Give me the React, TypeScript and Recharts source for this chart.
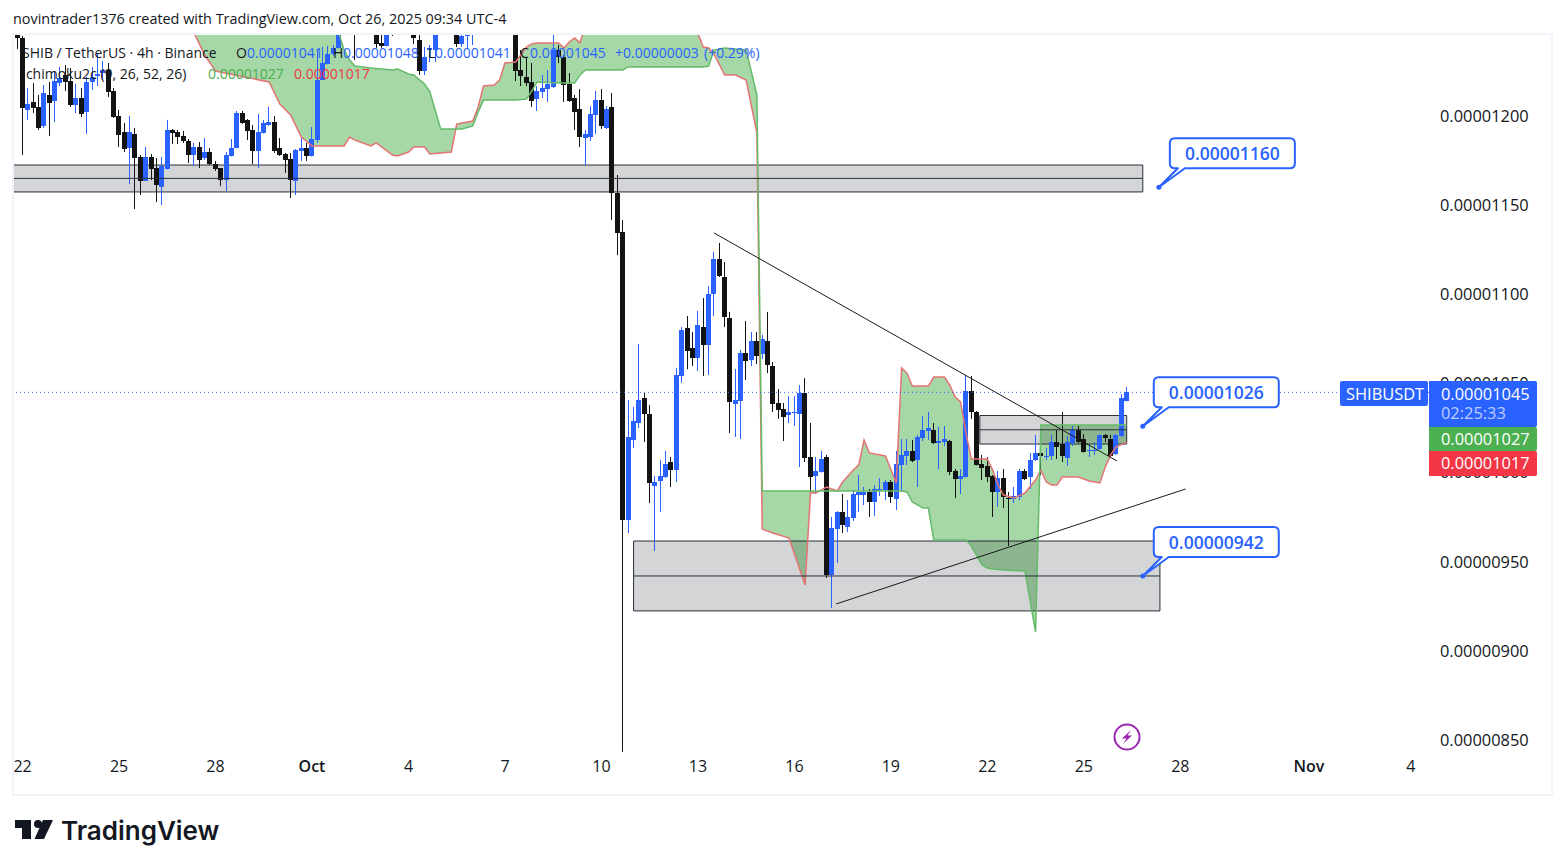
import React from "react";
import {
  ComposedChart, Bar, Area, Line, XAxis, YAxis, ReferenceArea, ReferenceLine, ReferenceDot,
} from "recharts";

// All prices are in units of 0.00000001
const UNIT = 1e-8;

const opens = [
  1246.5,1243.7,1203.4,1207.9,1205.1,1194.4,1211.8,1208.4,1218.5,1223.0,
  1219.6,1206.2,1210.1,1202.2,1219.1,1222.4,1224.1,1225.8,1214.0,1200.0,
  1191.0,1182.1,1189.9,1177.0,1163.5,1177.0,1170.8,1160.2,1170.3,1192.2,
  1191.0,1188.8,1186.0,1178.1,1182.6,1176.4,1179.8,1173.0,1170.6,1164.1,
  1177.6,1182.1,1201.7,1197.8,1192.2,1180.4,1190.5,1194.9,1196.6,1182.1,
  1178.7,1175.9,1163.5,1180.4,1182.1,1177.6,1186.5,1220.2,1229.2,1234.8,
  1238.2,1250,1258,1258,1255,1250,1256,1255,1241.0,1239.3,
  1255,1252,1258,1252,1252,1242.6,1225.2,1237.0,1237.0,1255,
  1250,1258,1254,1240.4,1244.9,1248,1258,1252,1256,1262,
  1256,1260,1255,1262,1225.8,1221.9,1219.1,1209.5,1213.5,1215.2,
  1216.3,1237.0,1233.1,1218.0,1210.1,1203.9,1187.7,1188.2,1200.6,1209.0,
  1193.3,1205.1,1156.8,1135.0,973.4,1018.3,1027.8,1041.8,1032.8,992.5,
  995.3,997.5,1005.9,1001.4,1054.2,1081.1,1069.9,1064.3,1081.6,1071.6,
  1100.2,1119.8,1109.7,1086.7,1038.5,1040.1,1067.1,1063.1,1073.8,1066.5,
  1073.8,1059.8,1039.0,1035.7,1032.3,1033.4,1032.8,1044.6,1008.7,998.1,
  1000.3,1008.7,942.6,968.3,977.9,969.5,974.5,987.4,987.4,989.1,
  983.5,990.2,990.2,994.7,985.2,1004.2,1009.3,1012.1,1007.1,1019.4,
  1023.3,1023.9,1016.6,1017.1,1017.7,1000.9,996.4,997.5,1045.7,1034.0,
  1004.8,1003.7,998.1,989.1,997.0,985.7,985.2,986.3,1000.9,997.5,
  1007.1,1011.0,1008.7,1009.3,1017.1,1016.0,1008.2,1016.6,1023.9,1018.8,
  1012.1,1012.1,1013.2,1021.1,1018.8,1010.4,1020.5,1040.1,
];
const highs = [
  1248.2,1244.9,1215.7,1218.5,1211.8,1217.4,1219.1,1224.7,1227.5,1228.6,
  1226.9,1218.0,1215.7,1221.9,1227.5,1235.3,1230.8,1229.7,1215.7,1203.4,
  1196.1,1200.0,1193.3,1178.1,1182.6,1178.7,1176.4,1177.0,1197.8,1192.7,
  1192.2,1191.6,1187.1,1184.9,1185.4,1187.7,1182.1,1174.8,1170.8,1179.8,
  1187.1,1202.8,1202.8,1198.3,1194.9,1201.1,1197.8,1205.1,1200.0,1187.7,
  1179.3,1179.3,1181.5,1187.7,1184.9,1193.8,1237.0,1238.7,1239.3,1239.8,
  1248.2,1262,1266,1270,1262,1262,1265,1262,1250,1262,
  1260,1265,1268,1266,1262,1250,1238.7,1239.8,1258,1262,
  1264,1266,1262,1250,1252,1264,1266,1260,1268,1272,
  1266,1270,1268,1272,1237.0,1233.1,1229.7,1216.8,1223.0,1225.8,
  1248.2,1239.8,1234.2,1224.1,1211.8,1215.1,1192.2,1205.6,1214.0,1215.1,
  1205.6,1212.9,1166.9,1141.7,1040.7,1036.8,1072.1,1044.6,1037.9,998.1,
  1007.1,1012.1,1008.7,1058.6,1081.6,1087.8,1078.8,1090.6,1097.9,1104.6,
  1123.7,1128.8,1118.1,1090.1,1058.1,1068.8,1085.0,1078.8,1078.8,1077.2,
  1090.1,1062.0,1046.9,1039.0,1042.9,1042.9,1049.1,1053.0,1027.8,1008.7,
  1012.1,1009.9,975.1,978.4,988.0,984.6,990.2,998.6,991.9,990.8,
  993.0,996.9,995.8,995.8,1012.1,1018.8,1018.8,1018.3,1021.1,1031.7,
  1034.0,1027.8,1025.6,1026.1,1018.3,1002.0,1002.0,1054.7,1054.2,1034.5,
  1009.9,1008.7,998.6,1000.9,1002.0,989.1,991.9,1002.0,1002.0,1011.0,
  1021.1,1011.3,1013.8,1021.1,1023.9,1034.0,1020.5,1026.1,1026.1,1021.6,
  1016.0,1017.1,1021.3,1021.6,1021.1,1021.6,1044.1,1048.0,
];
const lows = [
  1237.6,1178.1,1197.8,1201.7,1192.2,1193.3,1188.8,1196.6,1216.8,1214.0,
  1205.1,1201.7,1199.4,1189.9,1214.6,1216.8,1220.2,1210.7,1198.9,1182.6,
  1179.8,1161.9,1147.8,1155.7,1163.5,1164.1,1151.8,1150.1,1170.0,1184.3,
  1184.3,1184.9,1173.6,1171.9,1170.8,1175.3,1172.5,1169.2,1160.7,1158.0,
  1177.3,1181.8,1195.5,1186.5,1173.0,1170.8,1190.2,1194.4,1179.3,1177.6,
  1168.1,1154.0,1155.7,1174.8,1174.8,1177.3,1184.9,1220.0,1229.0,1233.7,
  1237.9,1248,1249,1231.4,1248,1248,1248,1238.2,1238.2,1239.0,
  1244.9,1248,1250,1248,1240.4,1223.0,1223.0,1230.3,1230.3,1247,
  1248,1248,1238.7,1238.7,1237.6,1239.8,1249,1248,1250,1254,
  1250,1252,1249,1219.6,1216.8,1216.8,1205.1,1202.8,1210.1,1207.9,
  1215.7,1229.7,1207.9,1207.9,1192.2,1182.6,1172.5,1186.0,1189.9,1192.7,
  1192.7,1141.7,1122.0,843.3,966.1,1013.8,1025.0,1017.2,982.9,956.0,
  977.9,996.9,991.9,994.7,1050.3,1058.0,1059.8,1057.0,1054.2,1054.7,
  1087.8,1109.7,1081.6,1022.2,1020.0,1018.8,1051.9,1059.8,1060.9,1063.7,
  1055.8,1034.0,1030.1,1017.7,1027.8,1026.1,1003.1,1005.9,989.1,988.0,
  1000.0,940.9,924.0,949.3,966.1,966.7,972.8,977.9,981.8,975.1,
  975.6,986.9,984.6,982.9,979.0,989.1,1004.2,1005.9,991.9,1017.7,
  1018.3,1016.0,1002.0,1014.9,998.6,985.7,988.0,997.2,1030.1,1004.0,
  995.8,994.7,975.1,980.7,980.1,958.8,982.9,984.6,995.8,990.8,
  1006.5,998.6,1007.1,1007.1,1007.6,1005.9,1003.7,1014.9,1016.6,1011.3,
  1008.7,1009.9,1012.7,1017.1,1008.7,1009.9,1020.0,1039.9,
];
const closes = [
  1243.7,1204.5,1206.7,1204.5,1193.3,1212.9,1207.3,1219.6,1221.3,1219.1,
  1206.2,1210.1,1201.1,1219.1,1221.9,1223.6,1225.8,1213.5,1199.4,1189.3,
  1181.5,1191.0,1176.5,1163.5,1177.0,1170.3,1161.3,1171.9,1192.2,1190.5,
  1188.2,1186.0,1178.1,1182.6,1175.3,1179.8,1173.0,1170.3,1164.1,1178.1,
  1182.1,1201.7,1196.1,1191.6,1180.4,1191.0,1196.1,1196.6,1180.4,1178.1,
  1175.3,1164.1,1180.9,1182.1,1177.6,1187.1,1220.2,1229.7,1234.8,1238.2,
  1247.1,1258,1252,1250,1250,1256,1251,1240.4,1239.3,1255,
  1250,1258,1254,1258,1243.7,1225.2,1233.1,1238.2,1250,1250,
  1257,1252,1240.4,1244.9,1246.5,1256,1252,1256,1262,1256,
  1260,1255,1263,1225.2,1222.4,1218.5,1208.4,1214.0,1215.7,1218.0,
  1237.0,1233.1,1217.4,1208.4,1202.2,1188.2,1189.9,1201.1,1209.0,1194.4,
  1203.9,1156.8,1134.4,973.4,1019.9,1028.9,1040.7,1032.8,994.1,994.7,
  998.1,1004.8,1001.4,1054.7,1080.0,1068.2,1064.3,1082.8,1071.6,1100.2,
  1119.8,1110.3,1087.2,1039.6,1040.7,1067.1,1062.6,1073.8,1065.4,1074.9,
  1060.3,1038.5,1035.1,1031.2,1034.0,1034.0,1044.6,1008.2,997.5,1000.9,
  1007.6,942.6,968.9,977.9,970.6,975.1,988.0,989.1,989.1,983.5,
  990.8,990.8,994.7,986.3,1004.8,1009.9,1012.1,1006.5,1020.0,1023.9,
  1025.0,1016.6,1017.7,1018.8,1000.3,996.4,998.1,1045.7,1034.0,1004.2,
  1002.6,997.5,989.1,997.0,986.3,985.2,986.9,1000.9,996.4,1007.1,
  1011.0,1009.3,1009.3,1017.1,1014.3,1009.3,1017.1,1023.9,1017.1,1011.5,
  1012.7,1012.7,1021.1,1019.4,1009.3,1021.1,1041.8,1045.0,
];

const cloudBars = [
  33,35,37,47,49,51,53,55,59,60,61,62,63,66,67,70,71,73,74,76,
  77,79,81,82,83,85,86,87,89,90,91,93,95,96,97,101,102,103,104,105,
  106,113,114,126,127,128,129,130,132,134,136,138,139,141,144,147,148,149,151,153,
  154,156,157,158,159,162,164,165,166,167,169,170,171,173,174,175,176,177,178,180,
  181,182,183,184,186,188,190,191,192,193,194,195,198,200,202,203,204,205,207,
];
const spanA = [
  1290,1290,1290,1290,1290,1290,1290,1290,1280,1246.5,1237.0,1231.4,1228.0,1226.9,1226.6,1225.8,1226.4,1223.6,1223.0,1217.9,
  1213.5,1192.7,1192.7,1192.7,1192.7,1194.4,1202.2,1209.0,1209.0,1209.0,1209.0,1209.0,1209.5,1214.0,1219.1,1218.5,1218.5,1218.5,1218.5,1223.0,
  1225.8,1225.8,1227.5,1227.5,1227.5,1227.5,1228.0,1237.0,1238.2,1237.6,1237.0,1211.8,989.7,989.7,989.7,989.7,989.7,989.7,989.7,989.7,
  989.7,989.7,989.7,989.7,989.7,989.7,989.7,989.7,989.1,983.5,980.1,980.1,962.2,962.2,962.2,962.2,962.2,962.2,958.8,948.2,
  946.5,945.9,945.6,945.4,945.1,944.8,910.6,1026.7,1026.7,1026.7,1026.7,1026.7,1026.7,1026.7,1026.7,1026.7,1026.7,1026.7,1026.7,
];
const spanB = [
  1246.5,1234.2,1225.2,1219.1,1206.7,1200.6,1188.2,1183.2,1183.2,1183.2,1183.2,1188.2,1186.5,1183.2,1184.9,1178.1,1177.6,1179.8,1182.6,1182.6,
  1178.7,1179.3,1179.8,1195.5,1196.1,1197.2,1205.1,1216.8,1217.4,1220.2,1229.7,1230.3,1238.7,1240.4,1241.0,1241.0,1238.2,1241.5,1243.7,1241.0,
  1251,1260,1260,1260,1246.5,1238.7,1238.2,1234.8,1223.0,1223.0,1220.2,1190.5,968.3,966.1,963.3,936.9,988.5,988.5,991.9,989.7,
  994.7,1001.4,1004.2,1018.3,1011.0,1009.3,994.1,1058.7,1055.8,1048.6,1048.6,1048.6,1053.6,1053.6,1049.1,1042.4,1039.6,1022.7,1007.6,1007.6,
  1007.6,1001.4,993.0,987.4,985.7,988.5,995.8,1001.4,994.7,993.0,993.0,997.5,997.5,995.3,994.2,1003.1,1009.9,1014.3,1017.1,
];

const yTickValues = [850, 900, 950, 1000, 1050, 1100, 1150, 1200];
const xTickBars = [1, 19, 37, 55, 73, 91, 109, 127, 145, 163, 181, 199, 217, 241, 260];
const xTickLabels = ["22", "25", "28", "Oct", "4", "7", "10", "13", "16", "19", "22", "25", "28", "Nov", "4"];

const zones = [
  { x1: -1, x2: 210, top: 1172.5, mid: 1165, bottom: 1157.4 },
  { x1: 179.6, x2: 207, top: 1032, mid: 1024, bottom: 1016 },
  { x1: 115, x2: 213.2, top: 961.6, mid: 942, bottom: 922.4 },
];
const callouts = [
  { bar: 213, price: 1160, text: "0.00001160" },
  { bar: 210, price: 1026, text: "0.00001026" },
  { bar: 210, price: 942, text: "0.00000942" },
];
const lastPrice = 1045;

const chartData = closes.map((c, i) => ({
  i, open: opens[i], high: highs[i], low: lows[i], close: c,
}));
const cloudData = cloudBars.map((i, k) => ({ i, a: spanA[k], b: spanB[k], band: [spanA[k], spanB[k]] }));

const FONT = "'Open Sans', sans-serif";
const BLUE = "#2962ff";
const BLACK = "#131313";
const TEXT = "#131722";

function Candle(props: any) {
  const { x, y, width, height, payload } = props;
  if (!payload) return null;
  const { open, high, low, close } = payload;
  const perUnit = height / Math.max(high - low, 0.0001);
  const top = y + (high - Math.max(open, close)) * perUnit;
  const bottom = y + (high - Math.min(open, close)) * perUnit;
  const color = close >= open ? BLUE : BLACK;
  const cx = Math.round(x + width / 2 - 0.5);
  const bodyTop = Math.round(top);
  const bodyH = Math.max(Math.round(bottom) - bodyTop, 1);
  return (
    <g>
      <rect x={cx} y={y} width={1} height={height} fill={color} />
      <rect x={cx - 2} y={bodyTop} width={5} height={bodyH} fill={color} />
    </g>
  );
}

function Callout(props: any) {
  const { cx, cy, text } = props;
  const l = cx + 11, r = cx + 136, t = cy - 49, b = cy - 19, rad = 5;
  const path = `M${l + rad},${t} H${r - rad} Q${r},${t} ${r},${t + rad} V${b - rad} Q${r},${b} ${r - rad},${b}
    H${cx + 26} L${cx},${cy} L${cx + 19},${b} H${l + rad} Q${l},${b} ${l},${b - rad} V${t + rad} Q${l},${t} ${l + rad},${t} Z`;
  return (
    <g>
      <path d={path} fill="#fff" stroke={BLUE} strokeWidth={2} strokeLinejoin="round" />
      <circle cx={cx} cy={cy} r={2.5} fill={BLUE} />
      <text x={(l + r) / 2} y={(t + b) / 2} textAnchor="middle" dominantBaseline="central"
        fontFamily={FONT} fontSize={17.5} fontWeight={600} fill={BLUE}>{text}</text>
    </g>
  );
}

function XTick(props: any) {
  const { x, y, payload, index } = props;
  const label = xTickLabels[index];
  const strong = label === "Oct" || label === "Nov";
  return (
    <text x={x} y={y} textAnchor="middle" dominantBaseline="central" fontFamily={FONT}
      fontSize={16} fontWeight={strong ? 600 : 400} fill={TEXT}>{label}</text>
  );
}

function Txt({ x, y, color = TEXT, size = 14, weight = 400, children, family = FONT }: any) {
  return (
    <div style={{
      position: "absolute", left: x, top: y, transform: "translateY(-50%)", color, fontSize: size,
      fontWeight: weight, fontFamily: family, whiteSpace: "pre", lineHeight: 1, pointerEvents: "none",
    }}>{children}</div>
  );
}

function Badge({ left, top, width, height, color, radius = "0 2px 2px 0" }: any) {
  return <div style={{ position: "absolute", left, top, width, height, background: color, borderRadius: radius }} />;
}

export default function App() {
  return (
    <div style={{ position: "absolute", left: 0, top: 0, width: 1563, height: 868, background: "#fff", overflow: "hidden" }}>
      <ComposedChart
        width={1563} height={868} data={chartData}
        margin={{ top: 35, right: 13, bottom: 75, left: 13 }}
      >
        <XAxis
          dataKey="i" type="number" domain={[-0.784, 263.4]} allowDataOverflow
          ticks={xTickBars} interval={0} axisLine={false} tickLine={false} height={33} tickMargin={0}
          tick={<XTick />}
        />
        <YAxis
          orientation="right" type="number" domain={[838.78, 1245.43]} allowDataOverflow
          ticks={yTickValues} interval={0} axisLine={false} tickLine={false} width={121} tickMargin={5}
          tick={{ fontFamily: FONT, fontSize: 16.4, fill: TEXT }}
          tickFormatter={(v: number) => (v * UNIT).toFixed(8)}
        />
        <Area data={cloudData} dataKey="band" type="linear" fill="#4caf50" fillOpacity={0.5}
          stroke="none" isAnimationActive={false} dot={false} activeDot={false} />
        <Line data={cloudData} dataKey="b" type="linear" stroke="#e57373" strokeWidth={1.5}
          dot={false} activeDot={false} isAnimationActive={false} />
        <Line data={cloudData} dataKey="a" type="linear" stroke="#66bb6a" strokeWidth={1.5}
          dot={false} activeDot={false} isAnimationActive={false} />
        {zones.map((z, k) => (
          <ReferenceArea key={`z${k}`} x1={z.x1} x2={z.x2} y1={z.bottom} y2={z.top} ifOverflow="hidden"
            fill="#2a2e39" fillOpacity={0.2} stroke="#2a2e39" strokeWidth={1} />
        ))}
        {zones.map((z, k) => (
          <ReferenceLine key={`m${k}`} ifOverflow="hidden" stroke="#2a2e39" strokeWidth={1}
            segment={[{ x: z.x1, y: z.mid }, { x: z.x2, y: z.mid }]} />
        ))}
        <Bar dataKey={(d: any) => [d.low, d.high]} barSize={5} shape={<Candle />} isAnimationActive={false} />
        <ReferenceLine ifOverflow="hidden" stroke="#1a1a1a" strokeWidth={1}
          segment={[{ x: 130, y: 1134.4 }, { x: 205.2, y: 1006.5 }]} />
        <ReferenceLine ifOverflow="hidden" stroke="#1a1a1a" strokeWidth={1}
          segment={[{ x: 152.8, y: 926.3 }, { x: 218, y: 990.8 }]} />
        {callouts.map((c, k) => (
          <ReferenceDot key={`c${k}`} x={c.bar} y={c.price} ifOverflow="visible"
            shape={(p: any) => <Callout {...p} text={c.text} />} />
        ))}
        <ReferenceLine y={lastPrice} stroke={BLUE} strokeWidth={1} strokeDasharray="1 3" />
      </ComposedChart>

      {/* frame */}
      <div style={{
        position: "absolute", left: 12, top: 33, width: 1537, height: 759,
        border: "2px solid #f0f3fa", boxSizing: "content-box", pointerEvents: "none",
      }} />

      <Txt x={13} y={19} size={14.4}>novintrader1376 created with TradingView.com, Oct 26, 2025 09:34 UTC-4</Txt>

      {/* legend */}
      <Txt x={22} y={53} size={14}>SHIB / TetherUS · 4h · Binance</Txt>
      <Txt x={236} y={53} size={14}>O</Txt>
      <Txt x={247} y={53} size={14} color={BLUE}>0.00001041</Txt>
      <Txt x={333} y={53} size={14}>H</Txt>
      <Txt x={343} y={53} size={14} color={BLUE}>0.00001048</Txt>
      <Txt x={428} y={53} size={14}>L</Txt>
      <Txt x={435} y={53} size={14} color={BLUE}>0.00001041</Txt>
      <Txt x={520} y={53} size={14}>C</Txt>
      <Txt x={530} y={53} size={14} color={BLUE}>0.00001045</Txt>
      <Txt x={615} y={53} size={14} color={BLUE}>+0.00000003</Txt>
      <Txt x={704} y={53} size={14} color={BLUE}>(+0.29%)</Txt>
      <Txt x={22} y={74} size={14}>Ichimoku2c (9, 26, 52, 26)</Txt>
      <Txt x={208} y={74} size={14} color="#4caf50">0.00001027</Txt>
      <Txt x={294} y={74} size={14} color="#f23645">0.00001017</Txt>

      {/* last-value badges */}
      <Badge left={1340} top={381} width={88} height={25} color={BLUE} radius="2px" />
      <Txt x={1346} y={394} size={16.4} color="#fff" weight={500}>SHIBUSDT</Txt>
      <Badge left={1429} top={381} width={108} height={45.5} color={BLUE} />
      <Txt x={1441} y={394} size={16.4} color="#fff" weight={500}>0.00001045</Txt>
      <Txt x={1441} y={413} size={16.4} color="rgba(255,255,255,0.7)" weight={500}>02:25:33</Txt>
      <Badge left={1429} top={426.5} width={108} height={24.5} color="#4caf50" />
      <Txt x={1441} y={439} size={16.4} color="#fff" weight={500}>0.00001027</Txt>
      <Badge left={1429} top={451} width={108} height={25} color="#f23645" />
      <Txt x={1441} y={463} size={16.4} color="#fff" weight={500}>0.00001017</Txt>

      {/* overlay icons and logo */}
      <svg width={1563} height={868} style={{ position: "absolute", left: 0, top: 0, pointerEvents: "none" }}>
        <circle cx={1127} cy={737} r={12.5} fill="#fff" stroke="#9c27b0" strokeWidth={2} />
        <path d="M1131,730 L1122,738.5 H1126.5 L1123,744 L1132,735.5 H1127.5 Z" fill="#9c27b0" />
        <path d="M15,820 H31 V839 H22 V828 H15 Z" fill="#131722" />
        <circle cx={38} cy={824} r={4} fill="#131722" />
        <path d="M43,820 H53 L44,839 H34.5 Z" fill="#131722" />
      </svg>
      <Txt x={61} y={831} size={26} weight={600} family="Inter, sans-serif" color="#131722">TradingView</Txt>
    </div>
  );
}
